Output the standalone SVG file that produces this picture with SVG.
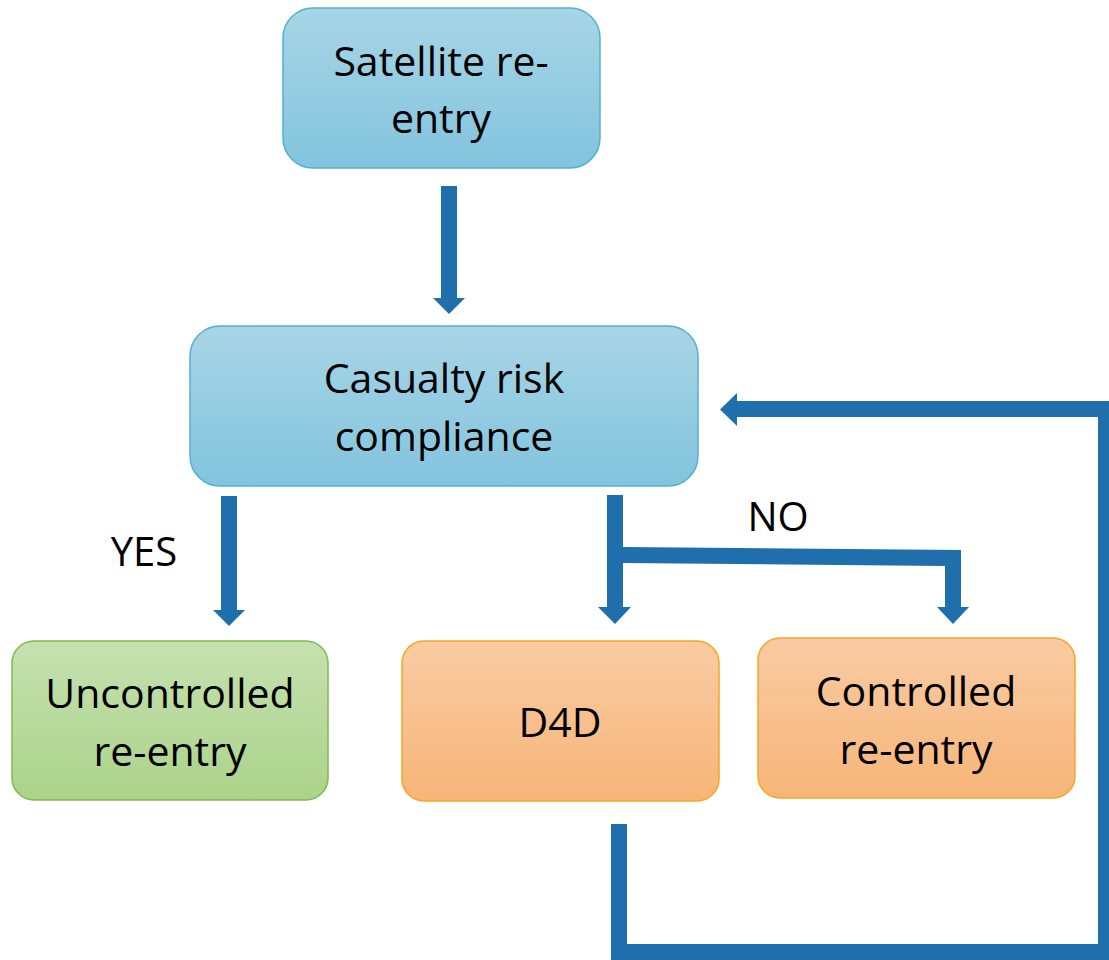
<svg xmlns="http://www.w3.org/2000/svg" width="1109" height="960" viewBox="0 0 1109 960">
<defs>
<linearGradient id="gBlue" x1="0" y1="0" x2="0" y2="1"><stop offset="0" stop-color="#a8d5e6"/><stop offset="1" stop-color="#82c4de"/></linearGradient>
<linearGradient id="gGreen" x1="0" y1="0" x2="0" y2="1"><stop offset="0" stop-color="#c6e1b0"/><stop offset="1" stop-color="#abd38a"/></linearGradient>
<linearGradient id="gOrange" x1="0" y1="0" x2="0" y2="1"><stop offset="0" stop-color="#f9cba3"/><stop offset="1" stop-color="#f7b578"/></linearGradient>
</defs>
<style>
.blue{fill:url(#gBlue);stroke:#4fb2cf;stroke-width:1.5}
.green{fill:url(#gGreen);stroke:#7fba52;stroke-width:1.5}
.orange{fill:url(#gOrange);stroke:#f5a623;stroke-width:1.5}
.t{font-family:"Open Sans","Liberation Sans",sans-serif;font-size:41px;fill:#000;text-anchor:middle}
.lbl{font-family:"Open Sans","Liberation Sans",sans-serif;font-size:40px;fill:#000;text-anchor:middle}
.ar{fill:#1e6fab}
.ln{fill:none;stroke:#1e6fab;stroke-width:16;stroke-linejoin:miter}
</style>
<g id="connectors">
<polygon class="ar" points="441,186 457,186 457,298 465,298 449,314 433,298 441,298"/>
<polygon class="ar" points="221,496 237,496 237,610 245,610 229,626 213,610 221,610"/>
<polygon class="ar" points="607,495 623,495 623,607 631,607 615,624 598,607 607,607"/>
<polygon class="ar" points="623,547 961,550 961,607 969,607 953,624 937,607 945,607 945,566 623,563"/>
<path class="ln" d="M619,824 V952 H1106 V409 H736"/>
<polygon class="ar" points="737,393 720,409.5 737,426"/>
</g>
<g id="satellite">
<rect class="blue" x="283" y="8" width="317" height="160" rx="30"/>
<text class="t" x="441" y="76">Satellite re-</text>
<text class="t" x="441" y="133">entry</text>
</g>
<g id="casualty">
<rect class="blue" x="190" y="326" width="508" height="160" rx="30"/>
<text class="t" x="444" y="393">Casualty risk</text>
<text class="t" x="444" y="451">compliance</text>
</g>
<g id="uncontrolled">
<rect class="green" x="12" y="641" width="316" height="159" rx="22"/>
<text class="t" x="170" y="708">Uncontrolled</text>
<text class="t" x="170" y="766">re-entry</text>
</g>
<g id="d4d">
<rect class="orange" x="402" y="641" width="317" height="160" rx="22"/>
<text class="t" x="560" y="737">D4D</text>
</g>
<g id="controlled">
<rect class="orange" x="758" y="638" width="317" height="160" rx="22"/>
<text class="t" x="916" y="706">Controlled</text>
<text class="t" x="916" y="764">re-entry</text>
</g>
<g id="labels">
<text class="lbl" x="144" y="566">YES</text>
<text class="lbl" x="778" y="531">NO</text>
</g>
</svg>
